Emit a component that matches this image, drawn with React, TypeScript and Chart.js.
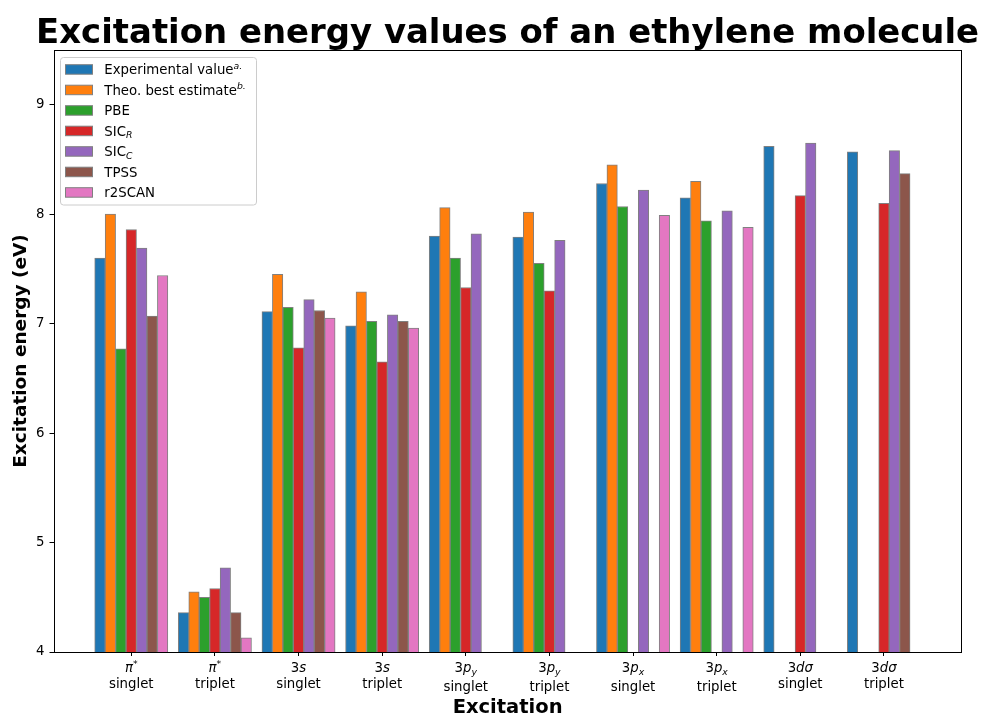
import React, { useEffect, useRef } from "react";
import { Chart, registerables } from "chart.js";

Chart.register(...registerables);

type Seg = { t: string; it?: boolean; sup?: boolean; sub?: boolean };

// ---------- data ----------
const orbitalLabels: Seg[][] = [
  [{ t: "π", it: true }, { t: "*", sup: true }],
  [{ t: "π", it: true }, { t: "*", sup: true }],
  [{ t: "3" }, { t: "s", it: true }],
  [{ t: "3" }, { t: "s", it: true }],
  [{ t: "3" }, { t: "p", it: true }, { t: "y", it: true, sub: true }],
  [{ t: "3" }, { t: "p", it: true }, { t: "y", it: true, sub: true }],
  [{ t: "3" }, { t: "p", it: true }, { t: "x", it: true, sub: true }],
  [{ t: "3" }, { t: "p", it: true }, { t: "x", it: true, sub: true }],
  [{ t: "3" }, { t: "dσ", it: true }],
  [{ t: "3" }, { t: "dσ", it: true }],
];
const spinLabels = ["singlet", "triplet", "singlet", "triplet", "singlet", "triplet", "singlet", "triplet", "singlet", "triplet"];

const seriesNames: Seg[][] = [
  [{ t: "Experimental value" }, { t: "a.", it: true, sup: true }],
  [{ t: "Theo. best estimate" }, { t: "b.", it: true, sup: true }],
  [{ t: "PBE" }],
  [{ t: "SIC" }, { t: "R", it: true, sub: true }],
  [{ t: "SIC" }, { t: "C", it: true, sub: true }],
  [{ t: "TPSS" }],
  [{ t: "r2SCAN" }],
];
const seriesColors = ["#1f77b4", "#ff7f0e", "#2ca02c", "#d62728", "#9467bd", "#8c564b", "#e377c2"];

const experimental = [7.6, 4.36, 7.11, 6.98, 7.8, 7.79, 8.28, 8.15, 8.62, 8.57];
const theoBest = [8.0, 4.55, 7.45, 7.29, 8.06, 8.02, 8.45, 8.3, null, null];
const pbe = [6.77, 4.5, 7.15, 7.02, 7.6, 7.55, 8.07, 7.94, null, null];
const sicR = [7.86, 4.58, 6.78, 6.65, 7.33, 7.3, null, null, 8.17, 8.1];
const sicC = [7.69, 4.77, 7.22, 7.08, 7.82, 7.76, 8.22, 8.03, 8.65, 8.58];
const tpss = [7.07, 4.36, 7.12, 7.02, null, null, null, null, null, 8.37];
const r2scan = [7.44, 4.13, 7.05, 6.96, null, null, 7.99, 7.88, null, null];
const seriesValues: (number | null)[][] = [experimental, theoBest, pbe, sicR, sicC, tpss, r2scan];

const yTicks = [4, 5, 6, 7, 8, 9];
const xTicks = [0, 1, 2, 3, 4, 5, 6, 7, 8, 9];

// ---------- layout constants ----------
const W = 981;
const H = 716;
const BAR_STEP = 0.125;
const FONT = '"DejaVu Sans", sans-serif';
const TITLE = "Excitation energy values of an ethylene molecule";
const X_TITLE = "Excitation";
const Y_TITLE = "Excitation energy (eV)";

function segFont(s: Seg, size: number) {
  const sz = s.sup || s.sub ? size * 0.7 : size;
  return `${s.it ? "italic " : ""}${sz}px ${FONT}`;
}
function richWidth(ctx: CanvasRenderingContext2D, segs: Seg[], size: number) {
  let w = 0;
  for (const s of segs) {
    ctx.font = segFont(s, size);
    w += ctx.measureText(s.t).width;
  }
  return w;
}
function drawRich(ctx: CanvasRenderingContext2D, segs: Seg[], x: number, y: number, size: number, align: "left" | "center") {
  const w = richWidth(ctx, segs, size);
  let cx = align === "center" ? x - w / 2 : x;
  ctx.textAlign = "left";
  ctx.textBaseline = "alphabetic";
  for (const s of segs) {
    ctx.font = segFont(s, size);
    const dy = s.sup ? -size * 0.4 : s.sub ? size * 0.22 : 0;
    ctx.fillText(s.t, cx, y + dy);
    cx += ctx.measureText(s.t).width;
  }
}

const decorPlugin = {
  id: "decor",
  afterDraw(chart: any) {
    const { ctx, chartArea: ca, scales } = chart;
    ctx.save();
    // frame (all four spines)
    ctx.strokeStyle = "#000";
    ctx.lineWidth = 1;
    ctx.strokeRect(Math.round(ca.left) + 0.5, Math.round(ca.top) + 0.5, Math.round(ca.right - ca.left) - 1, Math.round(ca.bottom - ca.top));

    // x tick labels
    ctx.fillStyle = "#000";
    orbitalLabels.forEach((segs, i) => {
      const x = scales.x.getPixelForValue(xTicks[i]);
      drawRich(ctx, segs, x, ca.bottom + 20, 13.3, "center");
      const hasSub = segs.some((s) => s.sub);
      ctx.font = `13.3px ${FONT}`;
      ctx.textAlign = "center";
      ctx.fillText(spinLabels[i], x, ca.bottom + 36 + (hasSub ? 2.5 : 0));
    });

    // title
    ctx.font = `bold 33.9px ${FONT}`;
    ctx.textAlign = "center";
    ctx.textBaseline = "alphabetic";
    ctx.fillText(TITLE, (ca.left + ca.right) / 2, 43);

    // x axis title
    ctx.font = `bold 19.5px ${FONT}`;
    ctx.fillText(X_TITLE, (ca.left + ca.right) / 2, 713);

    // y axis title
    ctx.save();
    ctx.translate(25.5, (ca.top + ca.bottom) / 2);
    ctx.rotate(-Math.PI / 2);
    ctx.font = `bold 18.5px ${FONT}`;
    ctx.textAlign = "center";
    ctx.fillText(Y_TITLE, 0, 0);
    ctx.restore();

    // legend
    const lx = 60.5, ly = 57.5, lw = 196, lh = 147.5;
    ctx.beginPath();
    (ctx as any).roundRect(lx, ly, lw, lh, 3);
    ctx.fillStyle = "rgba(255,255,255,0.8)";
    ctx.fill();
    ctx.strokeStyle = "#cccccc";
    ctx.lineWidth = 1;
    ctx.stroke();
    seriesNames.forEach((segs, k) => {
      const cy = 69.2 + k * 20.5;
      ctx.fillStyle = seriesColors[k];
      ctx.fillRect(65.5, cy - 4.5, 27, 9.5);
      ctx.strokeStyle = "grey";
      ctx.strokeRect(65.5, cy - 4.5, 27, 9.5);
      ctx.fillStyle = "#000";
      drawRich(ctx, segs, 104.3, cy + 4.8, 13.3, "left");
    });
    ctx.restore();
  },
};

export default function App() {
  const ref = useRef<HTMLCanvasElement | null>(null);
  useEffect(() => {
    document.body.style.margin = "0";
    const canvas = ref.current!;
    const datasets = seriesValues.map((vals, k) => ({
      label: seriesNames[k].map((s) => s.t).join(""),
      data: vals.map((v, i) => ({ x: xTicks[i] + (k - 3) * BAR_STEP, y: v })),
      backgroundColor: seriesColors[k],
      borderColor: "grey",
      borderWidth: 1,
      borderSkipped: false as any,
      barThickness: 10.45,
      grouped: false,
    }));
    const chart = new Chart(canvas, {
      type: "bar",
      data: { datasets: datasets as any },
      options: {
        animation: false,
        responsive: false,
        devicePixelRatio: 1,
        layout: { padding: { top: 50, right: 19.3, bottom: 0, left: 0 } },
        plugins: { legend: { display: false }, tooltip: { enabled: false }, title: { display: false } },
        scales: {
          x: {
            type: "linear",
            min: -0.93,
            max: 9.93,
            offset: false,
            afterBuildTicks: (scale: any) => {
              scale.ticks = xTicks.map((v) => ({ value: v }));
            },
            afterFit: (scale: any) => {
              scale.height = 64;
            },
            ticks: { callback: () => "", padding: 0 },
            grid: { offset: false, drawOnChartArea: false, drawTicks: true, tickLength: 4, tickColor: "#000", color: "#000" },
            border: { display: false },
          },
          y: {
            type: "linear",
            min: 4,
            max: 9.5,
            afterBuildTicks: (scale: any) => {
              scale.ticks = yTicks.map((v) => ({ value: v }));
            },
            afterFit: (scale: any) => {
              scale.width = 53.5;
            },
            ticks: { color: "#000", font: { family: "DejaVu Sans", size: 13.3 }, padding: 5 },
            grid: { drawOnChartArea: false, drawTicks: true, tickLength: 4, tickColor: "#000", color: "#000" },
            border: { display: false },
          },
        },
      },
      plugins: [decorPlugin],
    });
    return () => chart.destroy();
  }, []);
  return (
    <div style={{ position: "absolute", left: 0, top: 0, width: W, height: H, background: "#fff" }}>
      <canvas ref={ref} width={W} height={H} style={{ width: W, height: H, display: "block" }} />
    </div>
  );
}
